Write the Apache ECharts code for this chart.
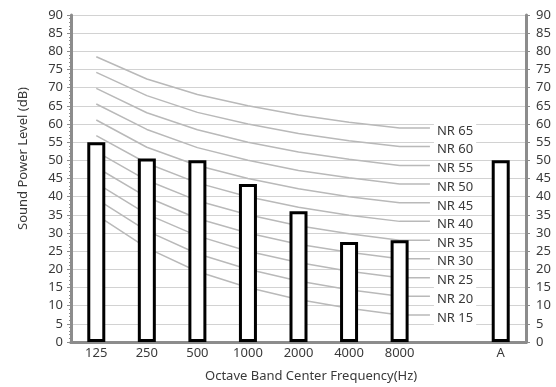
<!DOCTYPE html>
<html>
<head>
<meta charset="utf-8">
<script src="https://cdn.jsdelivr.net/npm/echarts@6/dist/echarts.min.js"></script>
<style>html,body{margin:0;padding:0;background:#fff}#c{width:556px;height:387px}</style>
</head>
<body>
<div id="c"></div>
<script>
// ---- data ----
var categories = ['125', '250', '500', '1000', '2000', '4000', '8000', '', 'A'];
var soundPower = [55, 50.5, 50, 43.5, 36, 27.5, 28, null, 50];
var yTicks = [0, 90, 5]; // min, max, interval
var nrNames = ['NR 65', 'NR 60', 'NR 55', 'NR 50', 'NR 45', 'NR 40', 'NR 35', 'NR 30', 'NR 25', 'NR 20', 'NR 15'];
var nr65 = [78.5, 72.4, 68.1, 65.0, 62.5, 60.5, 58.9];
var nr60 = [74.2, 67.8, 63.2, 60.0, 57.4, 55.4, 53.8];
var nr55 = [69.8, 63.1, 58.4, 55.0, 52.3, 50.3, 48.6];
var nr50 = [65.5, 58.5, 53.5, 50.0, 47.2, 45.2, 43.5];
var nr45 = [61.1, 53.6, 48.6, 45.0, 42.2, 40.0, 38.3];
var nr40 = [56.8, 49.2, 43.8, 40.0, 37.1, 34.9, 33.2];
var nr35 = [52.4, 44.5, 38.9, 35.0, 32.0, 29.8, 28.0];
var nr30 = [48.1, 39.9, 34.0, 30.0, 26.9, 24.7, 22.9];
var nr25 = [43.7, 35.2, 29.2, 25.0, 21.9, 19.5, 17.7];
var nr20 = [39.4, 30.6, 24.3, 20.0, 16.8, 14.4, 12.6];
var nr15 = [35.0, 25.9, 19.4, 15.0, 11.7, 9.3, 7.4];
var nrCurves = [nr65, nr60, nr55, nr50, nr45, nr40, nr35, nr30, nr25, nr20, nr15];
var leaderEnd = 7.1; // in category units on the hidden value axis

var FONT = 'Noto Sans';
var TXT = '#3a3a3a';
var AX = '#8c8c8c';

var nrSeries = nrCurves.map(function (vals, k) {
  var pts = vals.map(function (v, i) { return [i + 0.5, v]; });
  pts.push([leaderEnd, vals[vals.length - 1]]);
  return {
    type: 'line', name: nrNames[k], xAxisIndex: 1, yAxisIndex: 0,
    data: pts, symbol: 'none', silent: true, z: 1,
    lineStyle: { color: '#b9b9b9', width: 1.5 },
    endLabel: {
      show: true, formatter: '{a}', distance: 4, offset: [0, 3],
      color: TXT, fontFamily: FONT, fontSize: 13,
      backgroundColor: '#fff', padding: [2, 3, 0, 3]
    }
  };
});

var chart = echarts.init(document.getElementById('c'), null, { renderer: 'canvas' });
chart.setOption({
  animation: false,
  grid: { left: 71, right: 30, top: 15, bottom: 45 },
  xAxis: [{
    type: 'category', data: categories, position: 'bottom',
    axisLine: { lineStyle: { color: AX, width: 3 } },
    axisTick: { show: false },
    axisLabel: { color: TXT, fontFamily: FONT, fontSize: 13, margin: 5 },
    splitLine: { show: false }
  }, {
    type: 'value', min: 0, max: categories.length, position: 'top',
    axisLine: { show: true, lineStyle: { color: AX, width: 3 } },
    axisTick: { show: false }, axisLabel: { show: false }, splitLine: { show: false }
  }],
  yAxis: [0, 1].map(function (idx) {
    return {
      type: 'value', min: yTicks[0], max: yTicks[1], interval: yTicks[2],
      position: idx === 0 ? 'left' : 'right',
      axisLine: { show: true, lineStyle: { color: AX, width: 3 } },
      axisTick: { show: true, length: 4, lineStyle: { color: AX, width: 1 } },
      minorTick: { show: true, splitNumber: 5, length: 2, lineStyle: { color: AX, width: 1 } },
      axisLabel: { color: TXT, fontFamily: FONT, fontSize: 13, margin: idx === 0 ? 8 : 10 },
      splitLine: { show: idx === 0, lineStyle: { color: '#d2d2d2', width: 1 } }
    };
  }),
  graphic: [{
    type: 'text', left: 311 - 106, top: 370,
    style: { text: 'Octave Band Center Frequency(Hz)', fill: TXT, font: '13px "Noto Sans"' }
  }, {
    type: 'text', x: 23, y: 158.5, rotation: Math.PI / 2,
    style: { text: 'Sound Power Level (dB)', fill: TXT, font: '13px "Noto Sans"', align: 'center', verticalAlign: 'middle' }
  }],
  series: nrSeries.concat([{
    type: 'bar', name: 'Sound Power', data: soundPower, xAxisIndex: 0, yAxisIndex: 0,
    barWidth: 18, z: 5,
    itemStyle: { color: '#fff', borderColor: '#000', borderWidth: 3 }
  }])
});
</script>
</body>
</html>
